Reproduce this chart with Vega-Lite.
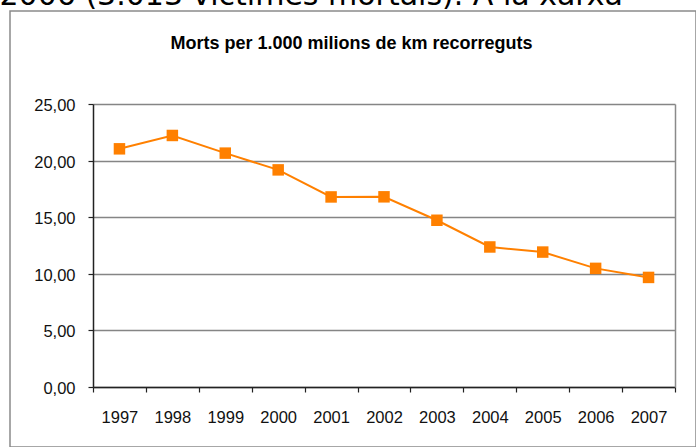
{
  "$schema": "https://vega.github.io/schema/vega-lite/v6.json",
  "width": 686,
  "height": 436,
  "autosize": {"type": "none"},
  "padding": {"left": 10, "top": 11, "right": 0, "bottom": 0},
  "background": "white",
  "data": {
    "values": [
      {"year": "1997", "value": 21.04},
      {"year": "1998", "value": 22.22},
      {"year": "1999", "value": 20.66},
      {"year": "2000", "value": 19.18},
      {"year": "2001", "value": 16.79},
      {"year": "2002", "value": 16.80},
      {"year": "2003", "value": 14.73},
      {"year": "2004", "value": 12.37},
      {"year": "2005", "value": 11.92},
      {"year": "2006", "value": 10.48},
      {"year": "2007", "value": 9.68}
    ]
  },
  "encoding": {
    "x": {
      "field": "year",
      "type": "ordinal",
      "scale": {"range": [83, 665], "paddingInner": 0, "paddingOuter": 0},
      "axis": {
        "orient": "bottom",
        "offset": -60,
        "tickBand": "extent",
        "labelAngle": 0,
        "labelFont": "Liberation Sans",
        "labelFontSize": 16.5,
        "labelColor": "#111111",
        "labelPadding": 17,
        "tickSize": 5,
        "tickColor": "#222222",
        "tickWidth": 1.2,
        "domainColor": "#222222",
        "domainWidth": 1.5,
        "grid": false,
        "title": "2006 (3.013 víctimes mortals). A la xarxa",
        "titleFont": "DejaVu Sans",
        "titleFontSize": 30,
        "titleFontWeight": "normal",
        "titleColor": "#000000",
        "titleAngle": 0,
        "titleAlign": "left",
        "titleBaseline": "alphabetic",
        "titleX": -11,
        "titleY": -383
      }
    }
  },
  "layer": [
    {
      "mark": {"type": "line", "color": "#FF8000", "strokeWidth": 2},
      "encoding": {
        "y": {
          "field": "value",
          "type": "quantitative",
          "scale": {"domain": [0, 25], "range": [376, 93], "nice": false, "zero": true},
          "axis": {
            "orient": "left",
            "offset": -83,
            "values": [0, 5, 10, 15, 20, 25],
            "grid": true,
            "gridColor": "#858585",
            "gridWidth": 1.3,
            "domainColor": "#222222",
            "domainWidth": 1.5,
            "tickColor": "#222222",
            "tickWidth": 1.2,
            "tickSize": 5,
            "labelFont": "Liberation Sans",
            "labelFontSize": 16.5,
            "labelColor": "#111111",
            "labelPadding": 13,
            "labelOffset": 1.5,
            "labelExpr": "replace(format(datum.value, '.2f'), '.', ',')",
            "title": "Morts per 1.000 milions de km recorreguts",
            "titleFont": "Liberation Sans",
            "titleFontSize": 18,
            "titleFontWeight": "bold",
            "titleColor": "#000000",
            "titleAngle": 0,
            "titleAlign": "center",
            "titleBaseline": "alphabetic",
            "titleX": 258,
            "titleY": 37
          }
        }
      }
    },
    {
      "mark": {"type": "point", "shape": "square", "filled": true, "size": 132, "color": "#FF8000", "opacity": 1},
      "encoding": {
        "y": {
          "field": "value",
          "type": "quantitative",
          "axis": {
            "orient": "right",
            "offset": -21,
            "labels": false,
            "ticks": false,
            "grid": false,
            "title": null,
            "domainColor": "#8a8a8a",
            "domainWidth": 1.5
          }
        }
      }
    }
  ],
  "resolve": {"axis": {"y": "independent"}},
  "config": {
    "view": {"stroke": "#8a8a8a", "strokeWidth": 1.5, "fill": "white"}
  }
}
